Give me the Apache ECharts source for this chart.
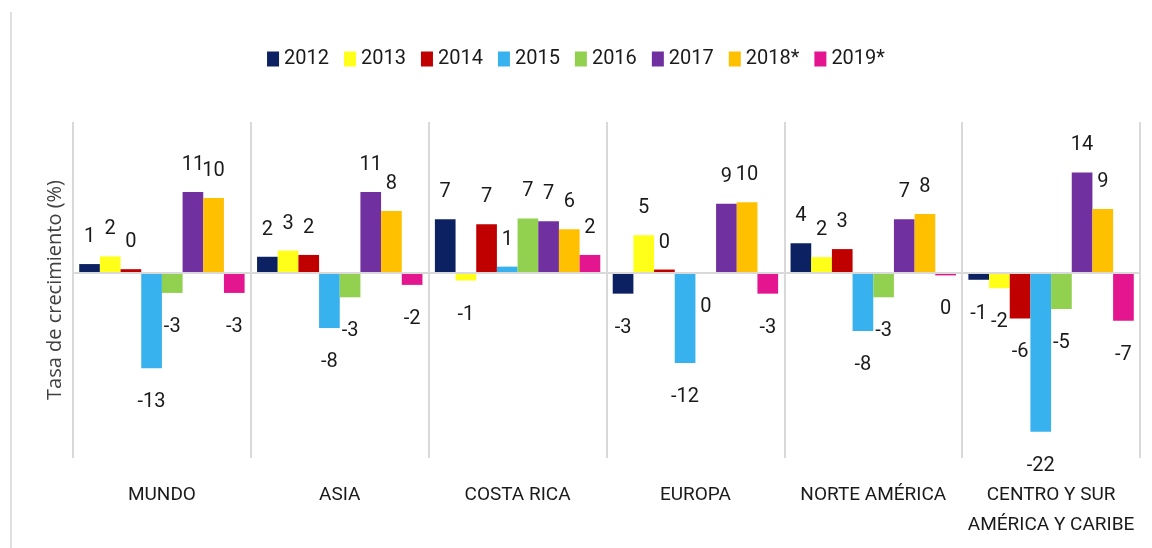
<!DOCTYPE html>
<html>
<head>
<meta charset="utf-8">
<script src="https://cdn.jsdelivr.net/npm/echarts@6/dist/echarts.min.js"></script>
<style>
html, body { margin: 0; padding: 0; background: #fff; }
#chart { width: 1152px; height: 548px; }
</style>
</head>
<body>
<div id="chart"></div>
<script>
var regiones = ['MUNDO', 'ASIA', 'COSTA RICA', 'EUROPA', 'NORTE AMÉRICA', 'CENTRO Y SUR\nAMÉRICA Y CARIBE'];
var anios = ['2012', '2013', '2014', '2015', '2016', '2017', '2018*', '2019*'];
var colores = ['#0b2161', '#ffff1a', '#c00000', '#38b2ee', '#92d050', '#7030a0', '#ffc000', '#e4168f'];
// tasa de crecimiento por año, en el orden de regiones
var v2012 = [1.15, 2.15, 7.3, -2.9, 4.0, -1.0];
var v2013 = [2.2, 3.0, -1.1, 5.1, 2.1, -2.15];
var v2014 = [0.45, 2.4, 6.6, 0.4, 3.2, -6.3];
var v2015 = [-13.1, -7.6, 0.8, -12.4, -8.0, -21.8];
var v2016 = [-2.8, -3.4, 7.4, -0.1, -3.4, -5.0];
var v2017 = [11.0, 11.0, 7.0, 9.4, 7.3, 13.7];
var v2018 = [10.2, 8.4, 5.9, 9.6, 8.0, 8.7];
var v2019 = [-2.8, -1.7, 2.4, -2.9, -0.4, -6.6];
var valores = [v2012, v2013, v2014, v2015, v2016, v2017, v2018, v2019];

var fuente = "Roboto, sans-serif";
var myChart = echarts.init(document.getElementById('chart'));

var series = [];
for (var i = 0; i < anios.length; i++) {
    series.push({
        name: anios[i],
        type: 'bar',
        barGap: '0%',
        barCategoryGap: '7%',
        itemStyle: { color: colores[i] },
        label: {
            show: true,
            color: '#1a1a1a',
            fontFamily: fuente,
            fontSize: 20,
            formatter: function (p) { return Math.round(p.value); }
        },
        data: valores[i].map(function (v) {
            return {
                value: v,
                label: v < 0 ? { position: 'bottom', distance: 24 } : { position: 'top', distance: 17 }
            };
        })
    });
}
// línea de cero
series[0].markLine = {
    silent: true,
    symbol: 'none',
    label: { show: false },
    lineStyle: { color: '#d9d9d9', width: 2, type: 'solid' },
    data: [{ yAxis: 0 }]
};

option = {
    backgroundColor: '#fff',
    animation: false,
    legend: {
        data: anios,
        top: 44,
        left: 'center',
        itemWidth: 12,
        itemHeight: 15,
        itemGap: 15,
        icon: 'rect',
        textStyle: { fontFamily: fuente, fontSize: 20, color: '#1a1a1a' }
    },
    grid: {
        left: 73,
        right: 12,
        top: 122,
        bottom: 90
    },
    xAxis: {
        type: 'category',
        data: regiones,
        axisLine: { show: false },
        axisTick: { show: false },
        splitLine: { show: true, interval: 0, lineStyle: { color: '#d9d9d9', width: 2 } },
        axisLabel: {
            interval: 0,
            margin: 22,
            fontFamily: fuente,
            fontSize: 19,
            lineHeight: 30,
            color: '#1a1a1a'
        }
    },
    yAxis: {
        type: 'value',
        min: -25.4,
        max: 20.6,
        splitLine: { show: false },
        axisLabel: { show: false },
        axisTick: { show: false },
        axisLine: { show: false },
        name: 'Tasa de crecimiento (%)',
        nameLocation: 'middle',
        nameGap: 8,
        nameRotate: 90,
        nameTextStyle: { fontFamily: "'Open Sans', sans-serif", fontSize: 20, color: '#404040' }
    },
    graphic: [
        { type: 'rect', left: 10, top: 12, shape: { width: 2, height: 536 }, style: { fill: '#e0e0e0' } }
    ],
    series: series
};
myChart.setOption(option, true);
</script>
</body>
</html>
